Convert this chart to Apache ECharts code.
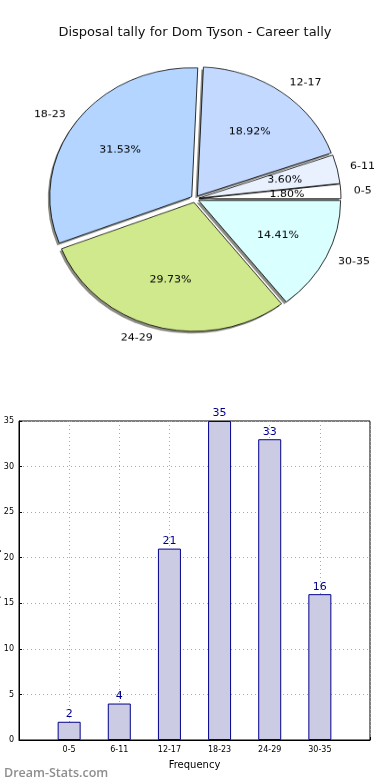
<!DOCTYPE html>
<html><head><meta charset="utf-8">
<script src="https://cdn.jsdelivr.net/npm/echarts@6/dist/echarts.min.js"></script>
<style>
html,body{margin:0;padding:0;background:#fff;}
#main{position:absolute;left:0;top:0;width:390px;height:780px;}
#pie{position:absolute;left:0;top:0;width:390px;height:400px;transform:scaleY(0.908);transform-origin:0 0;}
</style></head>
<body>
<div id="main"></div>
<div id="pie"></div>
<script>
const categories = ['0-5', '6-11', '12-17', '18-23', '24-29', '30-35'];
const tallies = [2, 4, 21, 35, 33, 16];
const sliceColors = ['#ffffff', '#e9f1ff', '#c3d9ff', '#b3d5ff', '#cfe98c', '#d9ffff'];
const yTicks = [0, 5, 10, 15, 20, 25, 30, 35];
const titleText = 'Disposal tally for Dom Tyson - Career tally';
const FONT = 'DejaVu Sans';
const total = tallies.reduce((a, b) => a + b, 0);

const main = echarts.init(document.getElementById('main'));
main.setOption({
  backgroundColor: '#fff',
  animation: false,
  textStyle: {fontFamily: FONT},
  title: [
    {text: titleText, left: 'center', top: 21, textStyle: {fontFamily: FONT, fontSize: 13, fontWeight: 'normal', color: '#111'}},
    {text: 'Dream-Stats.com', left: -1, top: 762, textStyle: {fontFamily: 'Open Sans', fontSize: 12.5, fontWeight: 600, color: '#8e8e8e'}}
  ],
  grid: {left: 19, right: 20, top: 421, bottom: 40, show: true, borderColor: '#000', borderWidth: 1,
    backgroundColor: 'transparent', outerBoundsMode: 'none', containLabel: false},
  xAxis: {
    type: 'value', min: 0, max: categories.length + 1, interval: 1,
    name: 'Frequency', nameLocation: 'middle', nameGap: 20,
    nameTextStyle: {fontFamily: FONT, fontSize: 10, color: '#000'},
    axisLine: {show: true, lineStyle: {color: '#000'}},
    axisTick: {show: true, inside: true, length: 3, lineStyle: {color: '#000'}},
    axisLabel: {fontFamily: FONT, fontSize: 8, color: '#000', margin: 6,
      formatter: v => (v >= 1 && v <= categories.length) ? categories[v - 1] : ''},
    splitLine: {show: true, lineStyle: {type: [1, 3], color: '#a8a8a8', width: 1}}
  },
  yAxis: {
    type: 'value', min: yTicks[0], max: yTicks[yTicks.length - 1], interval: yTicks[1] - yTicks[0],
    name: 'Disposal Tally', nameLocation: 'middle', nameGap: 18, nameRotate: 90, nameMoveOverlap: false,
    nameTextStyle: {fontFamily: FONT, fontSize: 10, color: '#000'},
    axisLine: {show: true, lineStyle: {color: '#000'}},
    axisTick: {show: true, inside: true, length: 3, lineStyle: {color: '#000'}},
    axisLabel: {fontFamily: FONT, fontSize: 8, color: '#000', margin: 5},
    splitLine: {show: true, lineStyle: {type: [1, 3], color: '#a8a8a8', width: 1}}
  },
  series: [{
    type: 'bar',
    data: categories.map((c, i) => [i + 1, tallies[i]]),
    barWidth: 23,
    itemStyle: {color: '#cbcce4', borderColor: '#00008b', borderWidth: 1},
    label: {show: true, position: 'top', distance: 2, fontFamily: FONT, fontSize: 11, color: '#00008b',
      formatter: p => String(p.value[1])},
    z: 3
  }]
});

const pie = echarts.init(document.getElementById('pie'));
const R = 142;
const CX = 195, CY = 219;
const common = {type: 'pie', startAngle: 0, clockwise: false, selectedMode: 'multiple', selectedOffset: 4,
  avoidLabelOverlap: false, emphasis: {disabled: true}};
pie.setOption({
  backgroundColor: 'transparent',
  animation: false,
  series: [
    Object.assign({}, common, {
      center: [CX - 2, CY + 2.5], radius: [0, R], silent: true, z: 1,
      data: categories.map((c, i) => ({name: c, value: tallies[i], selected: true})),
      itemStyle: {color: '#8c8c84', borderWidth: 0},
      select: {itemStyle: {color: '#8c8c84', borderWidth: 0}},
      label: {show: false}, labelLine: {show: false}
    }),
    Object.assign({}, common, {
      center: [CX, CY], radius: [0, R], z: 2,
      data: categories.map((c, i) => ({name: c, value: tallies[i], selected: true, itemStyle: {color: sliceColors[i]}})),
      itemStyle: {borderColor: '#000', borderWidth: 0.8},
      select: {itemStyle: {borderColor: '#000', borderWidth: 0.8}},
      label: {show: true, position: 'outside', fontFamily: FONT, fontSize: 11, color: '#000',
        distanceToLabelLine: 0, formatter: '{b}'},
      labelLine: {show: false, length: 13, length2: 0}
    }),
    Object.assign({}, common, {
      center: [CX, CY], radius: [0, R * 1.2], silent: true, z: 3,
      data: categories.map((c, i) => ({name: c, value: tallies[i], selected: true})),
      itemStyle: {color: 'rgba(0,0,0,0)', borderWidth: 0},
      select: {itemStyle: {color: 'rgba(0,0,0,0)', borderWidth: 0}},
      label: {show: true, position: 'inside', fontFamily: FONT, fontSize: 11, color: '#000',
        formatter: p => (p.value / total * 100).toFixed(2) + '%'},
      labelLine: {show: false}
    })
  ]
});
</script>
</body></html>
